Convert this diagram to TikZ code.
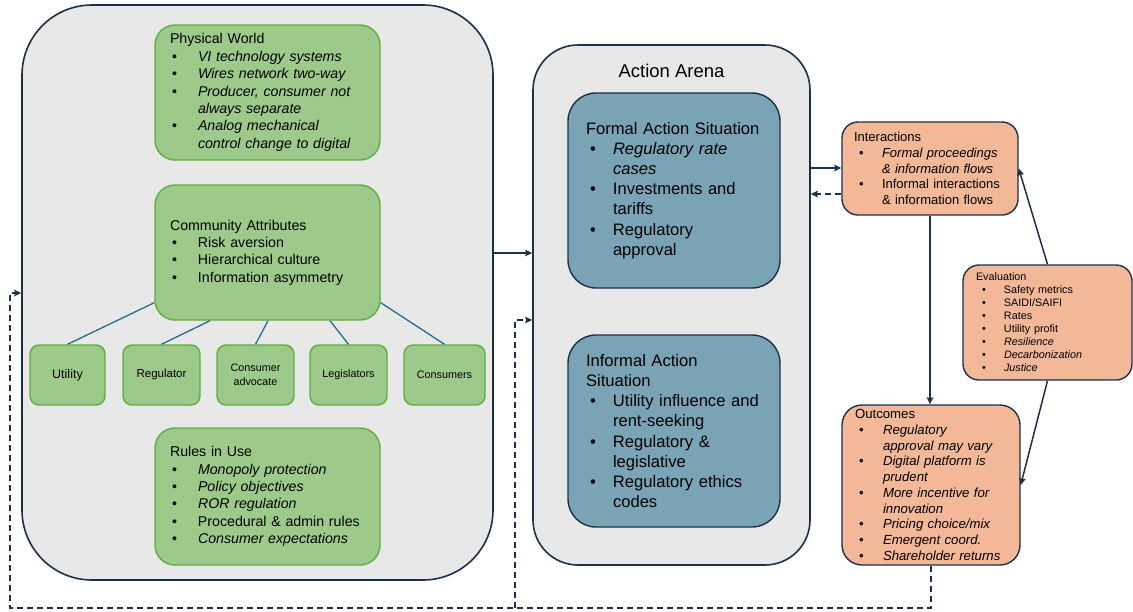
\documentclass[tikz,border=0pt]{standalone}
\usepackage{fontspec}
\setmainfont{Liberation Sans}
\usetikzlibrary{arrows.meta,calc}
\definecolor{navy}{HTML}{1C3048}
\definecolor{panel}{HTML}{E8E8E8}
\definecolor{gfill}{HTML}{9DCA8A}
\definecolor{gline}{HTML}{5FAE40}
\definecolor{bfill}{HTML}{7BA3B6}
\definecolor{ofill}{HTML}{F2B898}
\definecolor{tealline}{HTML}{2A6A8F}
\setlength\parindent{0pt}
\newdimen\bulA
\newdimen\bulB
\newcommand\bset[2]{\bulA=#1\relax\bulB=#2\relax\noindent}
\newcommand\bul[1]{\par\hangindent=\bulB\hangafter=1\noindent\hspace*{\bulA}\makebox[\dimexpr\bulB-\bulA\relax][l]{\textbullet}{#1}}
\tikzset{
  panelbox/.style={draw=navy, line width=1.6pt, fill=panel, inner sep=0pt},
  greenbox/.style={draw=gline, line width=1.4pt, fill=gfill, rounded corners=20pt, inner ysep=0pt, align=left},
  smallbox/.style={draw=gline, line width=1.4pt, fill=gfill, rounded corners=9pt, minimum height=60pt, inner sep=0pt, align=center},
  bluebox/.style={draw=navy, line width=1.4pt, fill=bfill, rounded corners=28pt, inner ysep=0pt, inner xsep=18pt, align=left, text width=176pt, minimum height=195pt},
  orangebox/.style={draw=navy, line width=1.4pt, fill=ofill, rounded corners=16pt, inner ysep=0pt, align=left},
  conn/.style={draw=navy, line width=1.5pt, -{Stealth[length=7pt,width=6.5pt,inset=1pt]}},
  dconn/.style={conn, dash pattern=on 6pt off 4pt},
  teal/.style={draw=tealline, line width=1.3pt}
}
\begin{document}
\begin{tikzpicture}[x=1pt,y=-1pt]
\useasboundingbox (0,0) rectangle (1133,611);
% big panels
\node[panelbox, rounded corners=70pt, minimum width=471pt, minimum height=575pt] (left) at (257.5,292.5) {};
\node[panelbox, rounded corners=45pt, minimum width=277pt, minimum height=520pt] (arena) at (671.5,305) {};
\node[font=\fontsize{18.5}{22}\selectfont, inner sep=0pt] (arenatitle) at (671.5,71) {Action Arena};
% green boxes
\node[greenbox, text width=195pt, inner xsep=15pt, minimum height=135pt, font=\fontsize{14.2}{17.4}\selectfont] (pw) at (267.5,92.5) {\bset{2pt}{28pt}Physical World
\bul{\itshape VI technology systems}
\bul{\itshape Wires network two-way}
\bul{\itshape Producer, consumer not\newline always separate}
\bul{\itshape Analog mechanical\newline control change to digital}\par};
\node[greenbox, text width=195pt, inner xsep=15pt, minimum height=135pt, font=\fontsize{14.2}{17.4}\selectfont] (ca) at (267.5,252.5) {\bset{2pt}{28pt}Community Attributes
\bul{Risk aversion}
\bul{Hierarchical culture}
\bul{Information asymmetry}\par};
\node[greenbox, text width=195pt, inner xsep=15pt, minimum height=137pt, font=\fontsize{14.2}{17.4}\selectfont] (rules) at (267.5,496.5) {\bset{2pt}{28pt}Rules in Use
\bul{\itshape Monopoly protection}
\bul{\itshape Policy objectives}
\bul{\itshape ROR regulation}
\bul{Procedural \& admin rules}
\bul{\itshape Consumer expectations}\par};
\node[smallbox, minimum width=75pt, font=\fontsize{12.5}{15}\selectfont] (util) at (67.5,375) {Utility};
\node[smallbox, minimum width=77pt, font=\fontsize{11.5}{14}\selectfont] (reg) at (161.5,375) {Regulator};
\node[smallbox, minimum width=77pt, font=\fontsize{10.8}{14}\selectfont] (cadv) at (255.5,375) {Consumer\\advocate};
\node[smallbox, minimum width=77pt, font=\fontsize{10.8}{14}\selectfont] (legis) at (348.5,375) {Legislators};
\node[smallbox, minimum width=81pt, font=\fontsize{10.8}{14}\selectfont] (cons) at (444.5,375) {Consumers};
\draw[teal] ($(ca.south west)+(0,-18)$) -- (util.north);
\draw[teal] ($(ca.south)+(-57.5,0)$) -- (reg.north);
\draw[teal] ($(ca.south)+(0.5,0)$) -- (cadv.north);
\draw[teal] ($(ca.south)+(62.5,0)$) -- (legis.north);
\draw[teal] ($(ca.south east)+(0,-18)$) -- (cons.north);
% blue boxes
\node[bluebox, font=\fontsize{16.6}{20.2}\selectfont] (formal) at (674,190.5) {\bset{4pt}{27pt}Formal Action Situation
\bul{\itshape Regulatory rate\newline cases}
\bul{Investments and\newline tariffs}
\bul{Regulatory\newline approval}\par};
\node[bluebox, minimum height=192pt, font=\fontsize{16.6}{20.2}\selectfont] (informal) at (674,431) {\bset{4pt}{27pt}Informal Action\newline Situation
\bul{Utility influence and\newline rent-seeking}
\bul{Regulatory \&\newline legislative}
\bul{Regulatory ethics\newline codes}\par};
% orange boxes
\node[orangebox, text width=152pt, inner xsep=12pt, minimum height=93pt, font=\fontsize{13}{15.8}\selectfont] (inter) at (930,168.5) {\bset{5pt}{28pt}Interactions
\bul{\itshape Formal proceedings\newline \& information flows}
\bul{Informal interactions\newline \& information flows}\par};
\node[orangebox, text width=143pt, inner xsep=13pt, minimum height=115pt, font=\fontsize{10.8}{13}\selectfont] (eval) at (1047.5,322.5) {\bset{6pt}{28pt}Evaluation
\bul{Safety metrics}
\bul{SAIDI/SAIFI}
\bul{Rates}
\bul{Utility profit}
\bul{\itshape Resilience}
\bul{\itshape Decarbonization}
\bul{\itshape Justice}\par};
\node[orangebox, rounded corners=20pt, text width=152pt, inner xsep=13pt, minimum height=160pt, font=\fontsize{13.2}{15.7}\selectfont] (outc) at (931,485) {\bset{4pt}{28pt}Outcomes
\bul{\itshape Regulatory\newline approval may vary}
\bul{\itshape Digital platform is\newline prudent}
\bul{\itshape More incentive for\newline innovation}
\bul{\itshape Pricing choice/mix}
\bul{\itshape Emergent coord.}
\bul{\itshape Shareholder returns}\par};
% helper coordinates
\coordinate (h1) at (0,253);
\coordinate (h2) at (0,168);
\coordinate (h3) at (0,194);
\coordinate (fb) at (0,293);
\coordinate (fb2) at (0,320);
\coordinate (bot) at (0,608);
\coordinate (lx) at (10,0);
\coordinate (bx) at (515,608);
% connectors
\draw[conn] (left.east |- h1) -- (arena.west |- h1);
\draw[conn] (arena.east |- h2) -- (inter.west |- h2);
\draw[dconn] (inter.west |- h3) -- (arena.east |- h3);
\draw[conn] (inter.south) -- (inter.south |- outc.north);
\draw[conn] (eval.north) -- (inter.east);
\draw[conn] (eval.south) -- (outc.east);
\draw[dconn] (outc.south) -- (outc.south |- bot) -- (lx |- bot) -- (lx |- fb) -- (left.west |- fb);
\draw[dconn] (bx) -- (bx |- fb2) -- (arena.west |- fb2);
\end{tikzpicture}
\end{document}
